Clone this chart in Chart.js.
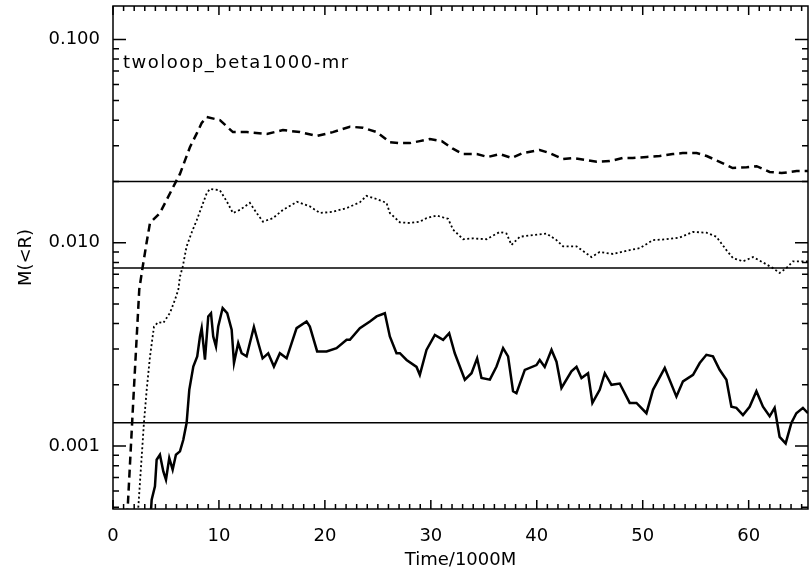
<!DOCTYPE html>
<html>
<head>
<meta charset="utf-8">
<script src="https://cdn.jsdelivr.net/npm/chart.js@4.4.1/dist/chart.umd.min.js"></script>
<style>
  html, body { margin: 0; padding: 0; background: #fff; }
</style>
</head>
<body>
<canvas id="graphique" width="809" height="577"></canvas>
<script>
// Time/1000M and enclosed mass M(<R), one pair of arrays per radius
const tempsTirets = [1.30, 1.39, 1.93, 2.48, 2.80, 3.17, 3.49, 4.43, 5.66, 6.32,
  7.26, 7.92, 8.37, 8.84, 10.09, 11.32, 12.64, 14.53, 16.04, 17.64,
  19.25, 20.75, 22.36, 23.58, 24.91, 26.13, 27.08, 28.02, 28.96, 29.91,
  31.04, 32.08, 33.02, 34.34, 35.38, 36.51, 37.64, 38.68, 40.28, 41.23,
  42.45, 43.40, 44.72, 45.66, 46.89, 48.11, 49.06, 50.38, 51.60, 52.83,
  53.77, 55.09, 56.04, 57.26, 58.49, 59.81, 60.75, 61.98, 63.11, 64.53, 65.60];
const masseTirets = [0.00045, 0.00050, 0.00173, 0.0059, 0.0076, 0.0100, 0.0125, 0.0140, 0.0187, 0.0218,
  0.0295, 0.0346, 0.0388, 0.0415, 0.0401, 0.0350, 0.0350, 0.0343, 0.0358, 0.0350,
  0.0335, 0.0350, 0.0372, 0.0368, 0.0350, 0.0312, 0.0309, 0.0309, 0.0316, 0.0324,
  0.0316, 0.0290, 0.0273, 0.0273, 0.0264, 0.0273, 0.0261, 0.0276, 0.0286, 0.0276,
  0.0258, 0.0261, 0.0255, 0.0250, 0.0252, 0.0261, 0.0261, 0.0264, 0.0267, 0.0273,
  0.0276, 0.0276, 0.0267, 0.0250, 0.0233, 0.0235, 0.0238, 0.0223, 0.0220, 0.0225, 0.0225];

const tempsPointilles = [2.30, 2.39, 2.71, 2.92, 3.18, 3.49, 3.87, 4.27, 4.75, 5.38,
  5.85, 6.16, 6.32, 6.58, 6.95, 7.42, 7.90, 8.37, 8.84, 9.15,
  10.09, 10.73, 11.32, 11.98, 12.92, 13.56, 14.15, 15.09, 16.04, 17.36,
  18.58, 19.53, 20.75, 22.05, 23.30, 23.93, 24.88, 25.82, 26.13, 27.08,
  28.02, 28.96, 29.59, 30.54, 31.63, 32.10, 33.05, 33.96, 35.25, 36.51,
  37.14, 37.61, 38.40, 39.65, 40.92, 41.86, 42.48, 43.75, 45.16, 45.94,
  47.20, 48.77, 49.72, 50.97, 52.24, 53.49, 54.75, 56.01, 56.95, 57.90,
  58.52, 59.46, 60.41, 61.35, 62.29, 62.92, 63.56, 64.18, 65.60];
const massePointilles = [0.00045, 0.00050, 0.00089, 0.0013, 0.00189, 0.00275, 0.00387, 0.00407, 0.00403, 0.00452,
  0.00524, 0.00586, 0.0068, 0.00762, 0.0096, 0.0112, 0.0129, 0.0150, 0.0175, 0.0184,
  0.0181, 0.0160, 0.0140, 0.0145, 0.0157, 0.0140, 0.0127, 0.0132, 0.0145, 0.0159,
  0.0151, 0.0140, 0.0142, 0.0148, 0.0158, 0.0170, 0.0164, 0.0157, 0.0140, 0.0126,
  0.0125, 0.0127, 0.0132, 0.0136, 0.0131, 0.0116, 0.0104, 0.0105, 0.0104, 0.0113,
  0.0111, 0.00975, 0.0107, 0.0109, 0.0111, 0.0103, 0.0096, 0.0096, 0.0085, 0.0090,
  0.0088, 0.0092, 0.0094, 0.0103, 0.0104, 0.0106, 0.0113, 0.0112, 0.0107, 0.0092,
  0.0084, 0.0081, 0.0085, 0.0080, 0.0075, 0.0071, 0.0075, 0.0081, 0.0081];

const tempsPlein = [3.55, 3.65, 3.96, 4.12, 4.43, 4.75, 5.00, 5.31, 5.63, 5.94,
  6.32, 6.63, 6.95, 7.20, 7.58, 7.95, 8.21, 8.37, 8.68, 8.99,
  9.25, 9.46, 9.72, 9.93, 10.35, 10.78, 11.20, 11.42, 11.82, 12.14,
  12.61, 12.92, 13.30, 13.71, 14.12, 14.65, 15.19, 15.75, 16.39, 16.86,
  17.33, 18.27, 18.58, 19.27, 20.16, 21.10, 22.05, 22.36, 23.30, 24.25,
  24.88, 25.66, 26.13, 26.76, 27.08, 27.71, 28.65, 28.96, 29.59, 30.38,
  31.16, 31.73, 32.26, 33.21, 33.84, 34.37, 34.78, 35.57, 36.20, 36.82,
  37.29, 37.76, 38.08, 38.87, 39.97, 40.28, 40.75, 41.39, 41.86, 42.33,
  43.27, 43.75, 44.22, 44.84, 45.25, 45.94, 46.42, 47.05, 47.83, 48.77,
  49.41, 50.35, 50.97, 52.08, 53.18, 53.80, 54.75, 55.38, 56.01, 56.63,
  57.26, 57.90, 58.37, 58.84, 59.46, 60.09, 60.73, 61.35, 61.98, 62.45,
  62.92, 63.49, 64.03, 64.50, 65.12, 65.60];
const massePlein = [0.00045, 0.000545, 0.000633, 0.000856, 0.000906, 0.00075, 0.000683, 0.000873, 0.000765, 0.000906,
  0.000941, 0.00107, 0.0013, 0.00189, 0.00246, 0.00276, 0.00346, 0.0038, 0.00266, 0.00434,
  0.0045, 0.00346, 0.00309, 0.00387, 0.00477, 0.0045, 0.00373, 0.00256, 0.00321, 0.00286,
  0.00276, 0.00321, 0.00385, 0.00321, 0.0027, 0.00286, 0.00246, 0.00286, 0.0027, 0.00321,
  0.0038, 0.0041, 0.00387, 0.00292, 0.00292, 0.00303, 0.00333, 0.00333, 0.0038, 0.0041,
  0.00434, 0.0045, 0.00346, 0.00286, 0.00286, 0.00265, 0.00245, 0.00224, 0.00297, 0.00352,
  0.00333, 0.00359, 0.00286, 0.00212, 0.00228, 0.0027, 0.00216, 0.00212, 0.00246, 0.00303,
  0.00276, 0.00186, 0.00182, 0.00237, 0.0025, 0.00265, 0.00245, 0.00297, 0.0026, 0.00193,
  0.00233, 0.00245, 0.00216, 0.00228, 0.00163, 0.00189, 0.00228, 0.002, 0.00203, 0.00163,
  0.00163, 0.00145, 0.00189, 0.00242, 0.00175, 0.00208, 0.00224, 0.00256, 0.00281, 0.00276,
  0.00237, 0.00212, 0.00156, 0.00154, 0.00142, 0.00156, 0.00186, 0.00156, 0.0014, 0.00154,
  0.00111, 0.00103, 0.0013, 0.00145, 0.00154, 0.00145];

// reference levels drawn as horizontal lines
const niveaux = [0.020, 0.0075, 0.0013];

const ticksX = [0, 10, 20, 30, 40, 50, 60];
const ticksY = [0.001, 0.01, 0.1];
const xMin = 0, xMax = 65.6;
const yMin = 0.00049, yMax = 0.146;
const nomRun = 'twoloop_beta1000-mr';

const POLICE = '"DejaVu Sans", sans-serif';

function points(temps, masses) {
  return temps.map((t, i) => ({ x: t, y: masses[i] }));
}

const datasets = [
  { data: points(tempsTirets, masseTirets), borderWidth: 2.5, borderDash: [8, 5] },
  { data: points(tempsPointilles, massePointilles), borderWidth: 1.8, borderDash: [2, 2.5] },
  { data: points(tempsPlein, massePlein), borderWidth: 2.5 }
];
niveaux.forEach(v => {
  datasets.push({ data: [{ x: xMin, y: v }, { x: xMax, y: v }], borderWidth: 1.5 });
});
datasets.forEach(d => {
  d.borderColor = '#000';
  d.pointRadius = 0;
  d.tension = 0;
  d.fill = false;
});

// IDL style box: frame on all four sides with inward major/minor ticks, plus run name
const cadre = {
  id: 'cadre',
  afterDraw(chart) {
    const { ctx, chartArea: a, scales: { x, y } } = chart;
    ctx.save();
    ctx.strokeStyle = '#000';
    ctx.lineWidth = 1.5;
    ctx.strokeRect(a.left, a.top, a.right - a.left, a.bottom - a.top);

    ctx.beginPath();
    for (let t = Math.ceil(x.min); t <= x.max; t++) {
      const px = x.getPixelForValue(t);
      const l = t % 10 === 0 ? 9 : 5;
      ctx.moveTo(px, a.bottom); ctx.lineTo(px, a.bottom - l);
      ctx.moveTo(px, a.top); ctx.lineTo(px, a.top + l);
    }
    for (let d = -4; d <= 0; d++) {
      for (let k = 1; k <= 9; k++) {
        const v = k * Math.pow(10, d);
        if (v < y.min || v > y.max) continue;
        const py = y.getPixelForValue(v);
        const l = k === 1 ? 13 : 6;
        ctx.moveTo(a.left, py); ctx.lineTo(a.left + l, py);
        ctx.moveTo(a.right, py); ctx.lineTo(a.right - l, py);
      }
    }
    ctx.stroke();

    ctx.fillStyle = '#000';
    ctx.font = '18px ' + POLICE;
    ctx.textBaseline = 'middle';
    ctx.letterSpacing = '1.5px';
    ctx.fillText(nomRun, a.left + 10, a.top + 57);
    ctx.restore();
  }
};

new Chart(document.getElementById('graphique'), {
  type: 'line',
  data: { datasets: datasets },
  options: {
    responsive: false,
    animation: false,
    layout: { padding: { top: 6, right: 1, left: 0, bottom: 0 } },
    plugins: { legend: { display: false }, tooltip: { enabled: false } },
    scales: {
      x: {
        type: 'linear',
        min: xMin,
        max: xMax,
        grid: { display: false, drawTicks: false },
        border: { display: false },
        afterFit: s => { s.height = 68; s.paddingLeft = 0; s.paddingRight = 0; },
        afterBuildTicks: s => { s.ticks = ticksX.map(v => ({ value: v })); },
        ticks: {
          color: '#000',
          padding: 17,
          maxRotation: 0,
          font: { family: POLICE, size: 18 },
          callback: v => String(v)
        },
        title: {
          display: true,
          text: 'Time/1000M',
          color: '#000',
          padding: { top: 0, bottom: 6 },
          font: { family: POLICE, size: 18 }
        }
      },
      y: {
        type: 'logarithmic',
        min: yMin,
        max: yMax,
        grid: { display: false, drawTicks: false },
        border: { display: false },
        afterFit: s => { s.width = 113; s.paddingTop = 0; s.paddingBottom = 0; },
        afterBuildTicks: s => { s.ticks = ticksY.map(v => ({ value: v })); },
        ticks: {
          color: '#000',
          padding: 13,
          autoSkip: false,
          font: { family: POLICE, size: 18 },
          callback: v => Number(v).toFixed(3)
        },
        title: {
          display: true,
          text: 'M(<R)',
          color: '#000',
          padding: { top: 16, bottom: 0 },
          font: { family: POLICE, size: 18 }
        }
      }
    }
  },
  plugins: [cadre]
});
</script>
</body>
</html>
